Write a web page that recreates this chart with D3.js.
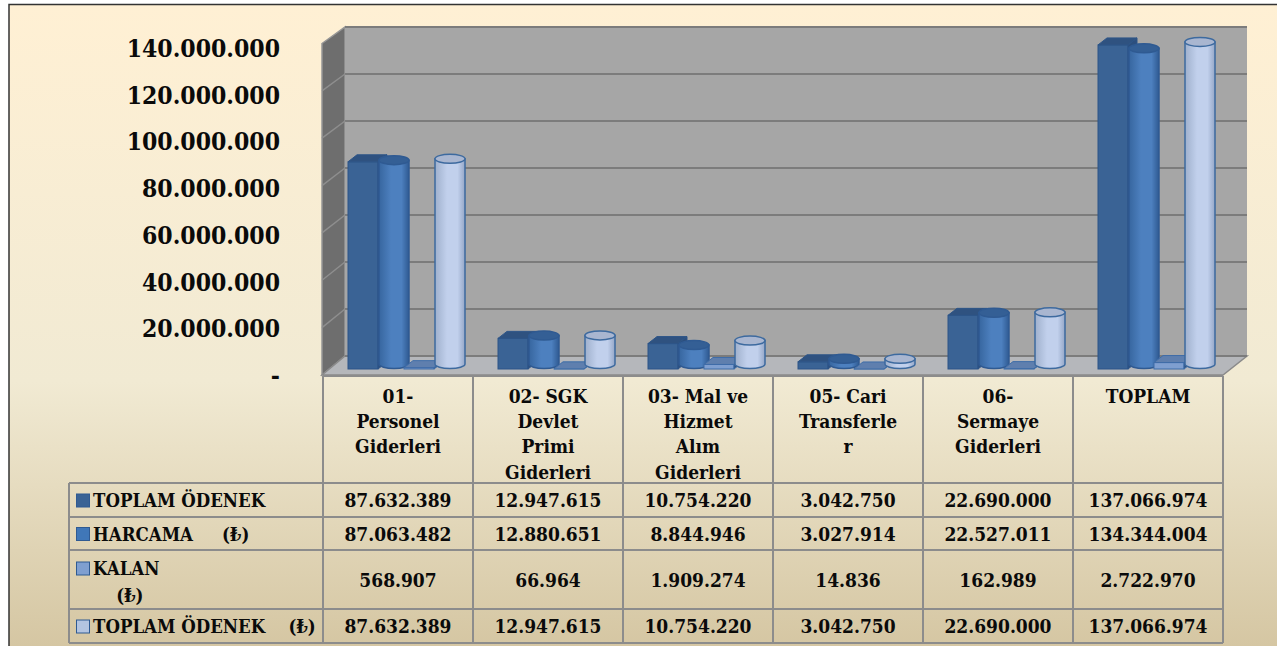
<!DOCTYPE html>
<html>
<head>
<meta charset="utf-8">
<script src="https://d3js.org/d3.v7.min.js"></script>
<style>
  html, body { margin: 0; padding: 0; background: #fff; }
  svg { display: block; }
  text { font-family: "DejaVu Serif", serif; font-stretch: condensed; font-weight: bold; fill: #0a0a0a; }
</style>
</head>
<body>
<div id="chart"></div>
<script>
// Values
const categories = ['01-Personel Giderleri', '02-SGK Devlet Primi Giderleri', '03-Mal ve Hizmet Alım Giderleri', '05-Cari Transferler', '06-Sermaye Giderleri', 'TOPLAM'];
const headerLines = [
  ['01-', 'Personel', 'Giderleri'],
  ['02- SGK', 'Devlet', 'Primi', 'Giderleri'],
  ['03- Mal ve', 'Hizmet', 'Alım', 'Giderleri'],
  ['05- Cari', 'Transferle', 'r'],
  ['06-', 'Sermaye', 'Giderleri'],
  ['TOPLAM']
];
const seriesNames = ['TOPLAM ÖDENEK', 'HARCAMA', 'KALAN', 'TOPLAM ÖDENEK 2'];
const seriesLabels = [['TOPLAM ÖDENEK'], ['HARCAMA     (₺)'], ['KALAN', '    (₺)'], ['TOPLAM ÖDENEK    (₺)']];
const toplamOdenek = [87632389, 12947615, 10754220, 3042750, 22690000, 137066974];
const harcama = [87063482, 12880651, 8844946, 3027914, 22527011, 134344004];
const kalan = [568907, 66964, 1909274, 14836, 162989, 2722970];
const toplamOdenek2 = [87632389, 12947615, 10754220, 3042750, 22690000, 137066974];
const yTicks = [0, 20000000, 40000000, 60000000, 80000000, 100000000, 120000000, 140000000];

const seriesValues = [toplamOdenek, harcama, kalan, toplamOdenek2];
const seriesShapes = ['box', 'cyl', 'box', 'cyl'];
const seriesFront = ['#3a6395', '#4a7cb9', '#7f9fd0', '#bccbe8'];
const seriesEdge = ['#2d5588', '#2f5a92', '#3f6da8', '#3d6a9f'];
const seriesTop = ['#2f5280', '#345f95', '#5f7fae', '#a9b6d0'];
const swatchFill = ['#3a6395', '#4077b8', '#7f9fd0', '#b3c4e0'];

const width = 1277, height = 646;
const tableX = 69, plotLeft = 323, plotRight = 1223;
const depthX = 23;
const rowLines = [376, 483, 517, 550, 609, 643];

const fmt = v => d3.format(',')(v).replace(/,/g, '.');

const svg = d3.select('#chart').append('svg')
  .attr('width', width)
  .attr('height', height);

const defs = svg.append('defs');

const bg = defs.append('linearGradient').attr('id', 'bg')
  .attr('x1', 0).attr('y1', 0).attr('x2', 0).attr('y2', 1);
bg.append('stop').attr('offset', '0%').attr('stop-color', '#fff0d4');
bg.append('stop').attr('offset', '58%').attr('stop-color', '#f1ead3');
bg.append('stop').attr('offset', '100%').attr('stop-color', '#d4c5a1');

// Cylinder shading, dark at the sides
function cylGradient(id, left, mid, right) {
  const g = defs.append('linearGradient').attr('id', id)
    .attr('x1', 0).attr('y1', 0).attr('x2', 1).attr('y2', 0);
  g.append('stop').attr('offset', '0%').attr('stop-color', left);
  g.append('stop').attr('offset', '40%').attr('stop-color', mid);
  g.append('stop').attr('offset', '75%').attr('stop-color', mid);
  g.append('stop').attr('offset', '100%').attr('stop-color', right);
}
cylGradient('cyl1', '#37669f', '#4d80bf', '#2f5a92');
cylGradient('cyl3', '#9fb0cc', '#c1d0ec', '#95a7c7');

// Page frame
svg.append('rect')
  .attr('x', 9).attr('y', 4.5)
  .attr('width', 1300).attr('height', 650)
  .attr('fill', 'url(#bg)')
  .attr('stroke', '#333').attr('stroke-width', 1.5);

// Scales: the bars stand a little behind the front edge of the floor
const yFront = d3.scaleLinear().domain([0, 140000000]).range([375, 43.5]);
const yBack = d3.scaleLinear().domain([0, 140000000]).range([356, 27]);
const yBar = d3.scaleLinear().domain([0, 140000000]).range([369, 38]);
const yLabel = d3.scaleLinear().domain([0, 140000000]).range([384, 57]);
const x0 = d3.scaleBand().domain(categories).range([plotLeft, plotRight]);
const x1 = d3.scaleBand().domain(seriesNames).range([25, 141]).paddingInner(0);

// Walls and floor
const wall = svg.append('g');
wall.append('path')
  .attr('d', `M${plotLeft - 1},${yFront(140000000)}L${plotLeft - 1 + depthX},${yBack(140000000)}V${yBack(0)}L${plotLeft - 1},${yFront(0)}Z`)
  .attr('fill', '#6e6e6e').attr('stroke', '#969696').attr('stroke-width', 1.5);
wall.append('rect')
  .attr('x', plotLeft + depthX - 1).attr('y', yBack(140000000))
  .attr('width', plotRight - plotLeft + 2).attr('height', yBack(0) - yBack(140000000))
  .attr('fill', '#a6a6a6');
wall.append('path')
  .attr('d', `M${plotLeft - 1},${yFront(0)}L${plotLeft - 1 + depthX},${yBack(0)}H${plotRight + depthX + 1}L${plotRight},${yFront(0)}Z`)
  .attr('fill', '#b5b7bb').attr('stroke', '#8a8a8a').attr('stroke-width', 1.5);

wall.selectAll('line.back').data(yTicks).enter().append('line')
  .attr('class', 'back')
  .attr('x1', plotLeft + depthX - 1).attr('x2', plotRight + depthX + 1)
  .attr('y1', d => yBack(d)).attr('y2', d => yBack(d))
  .attr('stroke', '#7c7c7c').attr('stroke-width', 2);
wall.selectAll('line.side').data(yTicks.slice(1, -1)).enter().append('line')
  .attr('class', 'side')
  .attr('x1', plotLeft - 1).attr('x2', plotLeft - 1 + depthX)
  .attr('y1', d => yFront(d)).attr('y2', d => yBack(d))
  .attr('stroke', '#8e8e8e').attr('stroke-width', 1.5);

// Y axis labels
svg.selectAll('text.ytick').data(yTicks).enter().append('text')
  .attr('class', 'ytick')
  .attr('x', 280)
  .attr('y', d => yLabel(d))
  .attr('text-anchor', 'end')
  .attr('font-size', 24.5)
  .text(d => d === 0 ? '-' : fmt(d));

// Bars
const bw = 30, boxDx = 9, boxDy = 7, cylRy = 4.5;
categories.forEach((cat, ci) => {
  const gc = svg.append('g').attr('transform', `translate(${x0(cat)},0)`);
  seriesValues.forEach((vals, si) => {
    // the two middle series sit slightly off their bands
    const nudge = si === 1 ? 2 : si === 2 ? -2 : 0;
    const left = x1(seriesNames[si]) + nudge;
    const top = yBar(vals[ci]);
    const base = yBar(0);
    const g = gc.append('g');
    if (seriesShapes[si] === 'box') {
      g.append('rect')
        .attr('x', left).attr('y', top).attr('width', bw).attr('height', base - top)
        .attr('fill', seriesFront[si]).attr('stroke', seriesEdge[si]);
      g.append('path')
        .attr('d', `M${left},${top}l${boxDx},${-boxDy}h${bw}l${-boxDx},${boxDy}Z`)
        .attr('fill', seriesTop[si]).attr('stroke', seriesEdge[si]);
      g.append('path')
        .attr('d', `M${left + bw},${top}l${boxDx},${-boxDy}V${base - boxDy}l${-boxDx},${boxDy}Z`)
        .attr('fill', '#2c4f7e').attr('stroke', seriesEdge[si]);
    } else {
      const cx = left + bw / 2;
      g.append('path')
        .attr('d', `M${left},${top - 3}V${base - 5}A${bw / 2},${cylRy} 0 0 0 ${left + bw},${base - 5}V${top - 3}Z`)
        .attr('fill', si === 1 ? 'url(#cyl1)' : 'url(#cyl3)')
        .attr('stroke', seriesEdge[si]).attr('stroke-width', 1.5);
      g.append('ellipse')
        .attr('cx', cx).attr('cy', top - 3)
        .attr('rx', bw / 2).attr('ry', cylRy)
        .attr('fill', seriesTop[si])
        .attr('stroke', seriesEdge[si]).attr('stroke-width', 1.5);
    }
  });
});

// Data table
const table = svg.append('g').attr('stroke', '#8c8c8c').attr('stroke-width', 2);
const colLines = d3.range(categories.length + 1).map(i => i < categories.length ? x0(categories[i]) : plotRight);
table.selectAll('line.col').data(colLines).enter().append('line')
  .attr('class', 'col')
  .attr('x1', d => d).attr('x2', d => d)
  .attr('y1', rowLines[0]).attr('y2', rowLines[5]);
table.append('line')
  .attr('x1', tableX).attr('x2', tableX).attr('y1', rowLines[1]).attr('y2', rowLines[5]);
rowLines.slice(1).forEach(r => {
  table.append('line').attr('x1', tableX).attr('x2', plotRight).attr('y1', r).attr('y2', r);
});
table.append('line').attr('x1', plotLeft).attr('x2', plotRight).attr('y1', rowLines[0]).attr('y2', rowLines[0]);

// Category headers
headerLines.forEach((lines, ci) => {
  const cx = x0(categories[ci]) + x0.bandwidth() / 2;
  svg.selectAll(null).data(lines).enter().append('text')
    .attr('x', cx)
    .attr('y', (d, i) => 403 + i * 25.2)
    .attr('text-anchor', 'middle')
    .attr('font-size', 19)
    .text(d => d);
});

// Series labels, swatches and values
seriesValues.forEach((vals, si) => {
  const rTop = rowLines[si + 1], rBot = rowLines[si + 2];
  const mid = (rTop + rBot) / 2;
  const firstLine = seriesLabels[si].length > 1 ? rTop + 25 : mid + 7;
  svg.append('rect')
    .attr('x', 76.5).attr('y', firstLine - 13)
    .attr('width', 13).attr('height', 13)
    .attr('fill', swatchFill[si]).attr('stroke', '#2f5a92').attr('stroke-width', 1);
  seriesLabels[si].forEach((label, i) => {
    svg.append('text')
      .attr('x', 93).attr('y', firstLine + i * 26.7)
      .attr('font-size', 18.5)
      .style('white-space', 'pre')
      .text(label);
  });
  vals.forEach((v, ci) => {
    svg.append('text')
      .attr('x', x0(categories[ci]) + x0.bandwidth() / 2)
      .attr('y', mid + 7.2)
      .attr('text-anchor', 'middle')
      .attr('font-size', 19)
      .text(fmt(v));
  });
});
</script>
</body>
</html>
